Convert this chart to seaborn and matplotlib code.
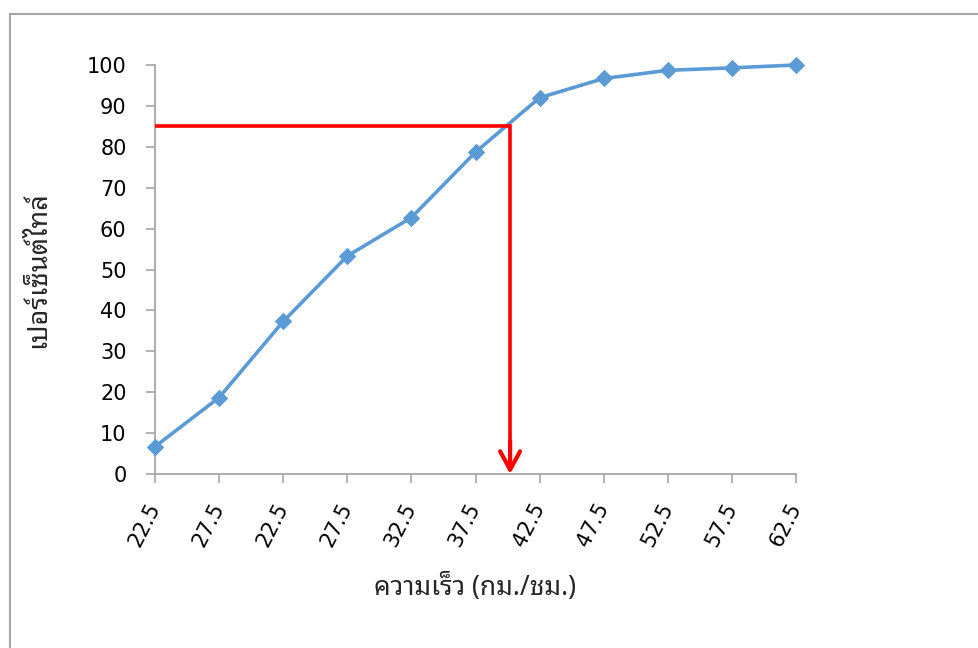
import matplotlib
matplotlib.use("Agg")
import numpy as np
import matplotlib.pyplot as plt
import seaborn as sns
from matplotlib.patches import Rectangle

# data
speed_labels = ["22.5", "27.5", "22.5", "27.5", "32.5", "37.5", "42.5", "47.5", "52.5", "57.5", "62.5"]
percentile = [6.7, 18.7, 37.3, 53.3, 62.7, 78.7, 92.0, 96.7, 98.7, 99.3, 100.0]
target_pct = 85
target_pos = 5.54  # where the 85th percentile hits the curve (category units)

sns.set_theme(style="white")
plt.rcParams['font.family'] = ['DejaVu Sans']
thai = ['Noto Sans Thai Looped', 'Noto Sans Thai', 'DejaVu Sans']

pos = np.arange(len(speed_labels))

fig = plt.figure(figsize=(9.79, 6.48), dpi=100)
ax = fig.add_axes([155 / 979, 1 - 474 / 648, (796 - 155) / 979, (474 - 65) / 648])

sns.lineplot(x=pos, y=percentile, ax=ax, color="#5B9BD5", linewidth=2.6,
             marker="D", markersize=8.5, markeredgecolor="#5B9BD5", sort=False,
             clip_on=False, zorder=3)

# red guide line + arrow
ax.plot([0, target_pos, target_pos], [target_pct, target_pct, 1.5], color="red",
        linewidth=2.6, solid_joinstyle="miter", solid_capstyle="butt", zorder=4, clip_on=False)
ax.annotate("", xy=(target_pos, 0), xytext=(target_pos, 8),
            arrowprops=dict(arrowstyle="->,head_length=1.1,head_width=0.6",
                            color="red", lw=3.0, shrinkA=0, shrinkB=0), zorder=4)

ax.set_xlim(0, len(speed_labels) - 1)
ax.set_ylim(0, 100)
ax.set_yticks(range(0, 101, 10))
ax.set_xticks(pos)
ax.set_xticklabels(speed_labels, rotation=63, ha="right", va="center", rotation_mode="anchor")

for side in ["top", "right"]:
    ax.spines[side].set_visible(False)
for side in ["left", "bottom"]:
    ax.spines[side].set_color("#A6A6A6")
    ax.spines[side].set_linewidth(1.3)
ax.tick_params(axis="both", which="both", direction="out", length=6.5, width=1.2,
               color="#A6A6A6", labelsize=15, labelcolor="black",
               bottom=True, left=True)
ax.tick_params(axis="x", pad=15)
ax.tick_params(axis="y", pad=14)

ax.set_xlabel("ความเร็ว (กม./ชม.)", fontsize=19, family=thai)
ax.set_ylabel("เปอร์เซ็นต์ไทล์", fontsize=19.5, family=thai)
ax.xaxis.set_label_coords(0.5, (474 - 588) / 409)
ax.xaxis.label.set_va("center")
ax.yaxis.set_label_coords((38 - 155) / 641, 0.5)
ax.yaxis.label.set_va("center")

# chart-area border (Excel style)
fig.add_artist(Rectangle((10 / 979, -0.05), 1.2, (648 - 14) / 648 + 0.05,
                         transform=fig.transFigure, fill=False,
                         edgecolor="#A6A6A6", linewidth=1.5))

fig.savefig("out.png", dpi=100)
